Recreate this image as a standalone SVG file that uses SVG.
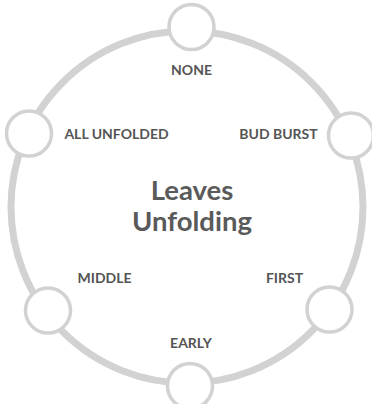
<svg xmlns="http://www.w3.org/2000/svg" width="372" height="404" viewBox="0 0 372 404">
<style>
.ring{fill:none;stroke:#d2d2d2;stroke-width:7}
.dot{fill:#ffffff;stroke:#d2d2d2;stroke-width:3.5}
.lbl{font-family:Lato,"Liberation Sans",sans-serif;font-weight:700;font-size:14px;fill:#555555;text-anchor:middle}
.title{font-family:Lato,"Liberation Sans",sans-serif;font-weight:700;font-size:27.5px;fill:#5a5a5a;text-anchor:middle}
</style>
<rect width="372" height="404" fill="#ffffff"/>
<g id="connectors">
<circle class="ring" cx="187" cy="207" r="176"/>
</g>
<g id="center"><text class="title" x="192" y="200">Leaves</text><text class="title" x="192" y="231">Unfolding</text></g>
<g id="none"><circle class="dot" cx="191.5" cy="27" r="22.5"/><text class="lbl" x="191.5" y="75">NONE</text></g>
<g id="budburst"><circle class="dot" cx="351" cy="135.5" r="22.5"/><text class="lbl" x="278.5" y="139">BUD BURST</text></g>
<g id="first"><circle class="dot" cx="329.5" cy="309.5" r="22.5"/><text class="lbl" x="284.5" y="282.5">FIRST</text></g>
<g id="early"><circle class="dot" cx="190" cy="386" r="22.5"/><text class="lbl" x="191" y="347.5">EARLY</text></g>
<g id="middle"><circle class="dot" cx="48" cy="310.5" r="22.5"/><text class="lbl" x="104.5" y="282.5">MIDDLE</text></g>
<g id="allunfolded"><circle class="dot" cx="29" cy="133.5" r="22.5"/><text class="lbl" x="116.5" y="139">ALL UNFOLDED</text></g>
</svg>
